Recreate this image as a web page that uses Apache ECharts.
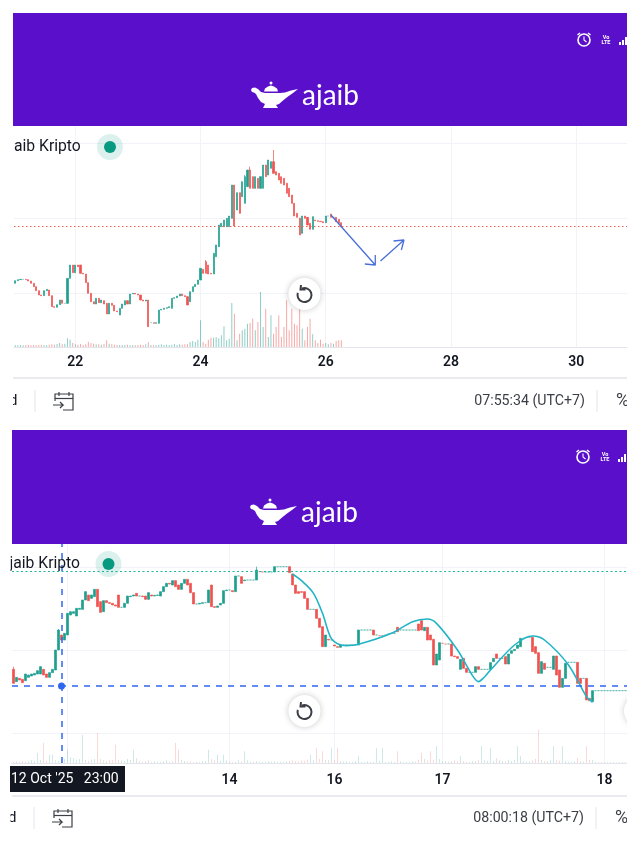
<!DOCTYPE html>
<html><head><meta charset="utf-8">
<style>html,body{margin:0;padding:0;background:#fff}#c{width:640px;height:852px}</style>
<script src="https://cdn.jsdelivr.net/npm/echarts@6/dist/echarts.min.js"></script>
</head><body><div id="c"></div>
<script>
// ---------- top panel ----------
const topTickIndex = [23, 71, 119, 167, 215];
const topTickLabels = ['22', '24', '26', '28', '30'];
const topOpen = [191,199,202,203,203,202,198,191,181,169,156,154,169,171,154,121,119,127,141,131,
131,206,246,223,246,246,221,219,193,161,136,129,146,133,139,131,99,131,125,108,
96,116,126,139,129,159,161,159,156,141,138,141,73,73,71,71,111,113,116,118,
116,146,148,153,159,154,151,136,166,181,188,201,233,256,246,221,219,271,301,361,
361,361,361,386,486,411,463,451,431,481,531,511,476,506,476,476,546,516,536,556,
526,521,511,506,491,476,456,431,401,386,341,393,389,371,353,381,379,377,376,373,393,399,389,389,383,373];
const topClose = [199,202,203,203,202,198,191,181,169,156,154,169,173,154,121,119,127,141,131,131,
206,246,223,246,241,221,219,193,161,136,129,146,133,141,129,99,131,125,108,106,
116,129,139,129,159,161,159,156,141,138,141,61,73,71,73,111,113,116,118,121,
146,148,153,159,154,151,126,166,181,188,201,236,221,221,219,219,281,306,366,371,
381,386,393,486,363,463,401,496,511,531,476,476,511,476,511,546,511,561,556,521,
516,501,491,486,461,451,431,393,389,336,393,386,366,353,391,379,377,376,373,393,393,389,389,376,371,361];
const topWicks = {51:[61,141],84:[361,486],90:[476,541],99:[521,591],88:[431,516],73:[221,261],109:[336,388]};
const topVolume = [6,5,6,5,6,7,5,6,5,6,7,6,5,7,8,7,9,12,8,10,
26,22,12,8,7,9,6,8,16,12,10,8,8,7,9,20,10,8,7,6,
6,5,6,7,5,6,5,6,7,6,8,14,6,5,6,7,8,6,7,6,
7,9,6,8,7,8,8,15,18,15,22,80,15,10,22,28,28,30,26,35,
62,20,25,132,100,20,40,50,55,70,72,85,50,75,165,60,115,30,95,40,
60,95,30,60,140,50,115,70,65,130,55,20,60,85,38,20,12,22,10,12,8,12,10,18,20,20];
const topLastPrice = 363;
const arrowDownX = [121,138,134,138,138], arrowDownY = [396,246,249,246,276];
const arrowUpX = [140,149,145,149,148], arrowUpY = [258,321,318,321,291];

// ---------- bottom panel ----------
const bottomTickIndex = [72, 107, 143, 197];
const bottomTickLabels = ['14', '16', '17', '18'];
const bottomGridIndex = [18, 72, 107, 143, 197];
const bottomOpen = [281,244,254,251,247,257,261,264,267,267,281,267,257,271,279,339,384,369,384,444,
449,441,461,461,489,504,494,499,521,484,454,487,481,479,474,504,467,467,479,499,
501,509,501,501,501,491,504,501,503,501,514,529,539,534,547,534,521,539,551,539,
511,477,477,479,481,481,534,469,467,474,479,517,519,517,514,561,559,547,549,549,
549,549,574,573,573,573,573,573,589,589,589,589,589,567,534,514,514,514,494,461,
461,461,434,409,349,371,369,354,349,347,354,354,354,354,354,354,399,399,399,399,
399,384,382,382,384,387,389,389,407,399,399,399,399,399,399,417,427,397,407,384,
371,294,309,359,357,357,357,321,319,281,314,284,272,272,272,289,281,281,281,281,
304,327,314,314,319,297,329,337,344,349,374,377,377,377,349,331,269,299,287,287,
281,321,279,227,254,302,302,302,302,254,254,254,194,184,217,217,217,217,217,217,217,217,217,217,217];
const bottomClose = [239,257,249,241,267,264,267,269,277,289,264,257,271,281,339,399,369,389,449,454,
454,464,464,489,514,487,504,521,469,452,487,481,479,474,471,467,467,479,501,501,
504,501,501,499,491,511,501,503,504,514,529,539,537,547,529,521,539,551,534,511,
477,477,479,481,481,519,469,467,471,479,517,519,519,514,561,561,539,549,549,549,
549,579,574,573,573,573,573,589,589,589,589,589,571,534,509,509,512,494,461,461,
461,434,407,349,384,369,369,351,347,354,354,354,354,354,354,399,399,399,399,399,
384,384,382,382,384,387,389,389,394,399,399,399,399,399,399,397,399,407,369,369,
294,327,361,359,357,357,321,319,314,311,284,272,272,272,289,281,281,281,281,301,
314,314,314,314,297,327,337,341,354,374,374,377,377,334,329,269,304,281,287,287,
321,264,227,254,299,302,302,302,239,239,254,189,187,217,217,217,217,217,217,217,217,217,217,217,217];
const bottomWicks = {0:[239,289],15:[339,402],81:[549,589],66:[469,534]};
const bottomVolume = [4,5,3,6,4,5,8,6,30,10,60,6,25,25,8,6,5,12,40,18,
14,10,12,85,8,6,10,12,90,12,8,6,10,8,55,10,8,6,12,10,
40,14,6,4,6,8,3,5,4,3,5,8,4,6,60,40,10,6,4,5,
3,4,3,5,6,40,12,8,25,6,25,8,4,3,4,8,5,35,8,4,
3,6,4,3,4,5,4,6,3,4,3,5,6,8,6,5,8,6,10,25,
8,45,12,35,8,10,45,8,45,6,4,5,4,3,6,20,4,3,5,3,
4,45,6,45,3,4,5,4,35,5,3,4,3,5,4,10,30,12,8,35,
10,50,12,6,5,4,6,8,5,20,6,4,3,5,6,10,50,8,6,45,
6,15,8,6,5,10,6,8,50,20,6,4,5,8,12,100,8,6,5,10,
50,8,6,50,5,4,3,5,15,6,4,50,8,10,3,2,2,2,2,2,2,2,2,2,2];
const bottomHigh = 574, crossPrice = 231, crossIndex = 16;
const curveX = [93,96,100,103,105,106,108,111,115,126,133,138,141,148,153,155,157,159,167,173,177,185,191,193];
const curveY = [567,547,509,449,392,373,358,352,356,389,424,432,419,339,262,244,258,279,354,381,369,294,199,182];

// ---------- styling ----------
const UP = '#1fa08f', DOWN = '#ef5350', GRID = '#f1f3f8', AXIS = '#e3e5ea', INK = '#131722';
const PURPLE = '#5a10ca', BLUE = '#2f66f0', FONT = 'Roboto, sans-serif';

function candles(o, c, wicks) {
  return o.map((v, i) => {
    const w = wicks[i] || [Math.min(v, c[i]), Math.max(v, c[i])];
    const d = { value: [v, c[i], w[0], w[1]] };
    if (v === c[i]) d.itemStyle = { opacity: 0.7 };   // no-trade bars read as a faint hairline
    return d;
  });
}
function volumes(vol, o, c, alpha) {
  return vol.map((v, i) => ({
    value: v,
    itemStyle: { color: c[i] >= o[i] ? `rgba(31,160,143,${alpha})` : `rgba(239,83,80,${alpha})` }
  }));
}
function categories(n, idx, labels) {
  const a = new Array(n).fill('');
  idx.forEach((k, j) => { a[k] = labels[j]; });
  return a;
}
function xAxis(gridIndex, n, idx, labels, gridIdx, margin) {
  return {
    type: 'category', gridIndex, boundaryGap: true,
    data: categories(n, idx, labels),
    axisLine: { show: true, lineStyle: { color: AXIS } },
    axisTick: { show: false },
    axisLabel: { interval: 0, margin, color: INK, fontSize: 14, fontWeight: 600, fontFamily: FONT },
    splitLine: { show: true, alignWithLabel: true, lineStyle: { color: GRID },
      interval: i => gridIdx.includes(i) }
  };
}
function yAxis(gridIndex, max, lines) {
  return {
    type: 'value', gridIndex, min: 0, max, position: 'right',
    axisLine: { show: false }, axisLabel: { show: false },
    axisTick: { show: false, customValues: lines },
    splitLine: { show: lines.length > 0, lineStyle: { color: GRID } }
  };
}
function pairs(x, y) { return x.map((v, i) => [v, y[i]]); }

// ---------- page furniture ----------
function chrome(dx, dy, time, kripto, kx) {
  const z = 100, g = [];
  const off = pts => pts.map(p => [p[0] + dx, p[1] + dy]);
  const lampBody = [[251,90],[252,88],[255,87.5],[258,89],[261,92],[265,93],[270,93],[280,93],[285,92.5],[291,90.5],[298,89],[293,93],[288,96.5],[283,100.5],[279,104],[276,105],[278,108],[263,108],[265,104],[261,102],[258,98],[256,94],[254,92.5],[252,92]];
  const lampLid = [[264,91.5],[265,88.5],[268,86.5],[271,85.5],[274,86.5],[277,88.5],[278,91.5]];
  g.push({ type: 'rect', z, shape: { x: 13 + dx, y: 13 + dy, width: 614 - dx, height: 113 + (dy ? 1 : 0) }, style: { fill: PURPLE } });
  g.push({ type: 'polygon', z: z + 1, shape: { points: off(lampBody) }, style: { fill: '#fff' } });
  g.push({ type: 'polygon', z: z + 1, shape: { points: off(lampLid) }, style: { fill: '#fff' } });
  g.push({ type: 'circle', z: z + 1, shape: { cx: 271 + dx, cy: 83 + dy, r: 1.5 }, style: { fill: '#fff' } });
  g.push({ type: 'text', z: z + 1, x: 302 + dx, y: 96 + dy, style: { text: 'ajaib', fill: '#fff', font: '400 28px Lato, sans-serif', textVerticalAlign: 'middle' } });
  // status bar
  g.push({ type: 'circle', z: z + 1, shape: { cx: 584 + dx, cy: 40 + dy, r: 6 }, style: { fill: 'none', stroke: '#fff', lineWidth: 1.6 } });
  g.push({ type: 'polyline', z: z + 1, shape: { points: off([[584, 36.5], [584, 40], [586.5, 42]]) }, style: { fill: 'none', stroke: '#fff', lineWidth: 1.1 } });
  g.push({ type: 'line', z: z + 1, shape: { x1: 577.5 + dx, y1: 35 + dy, x2: 580 + dx, y2: 33 + dy }, style: { stroke: '#fff', lineWidth: 1.4 } });
  g.push({ type: 'line', z: z + 1, shape: { x1: 590.5 + dx, y1: 35 + dy, x2: 588 + dx, y2: 33 + dy }, style: { stroke: '#fff', lineWidth: 1.4 } });
  g.push({ type: 'text', z: z + 1, x: 606 + dx, y: 40 + dy, style: { text: 'Vo\nLTE', fill: '#fff', font: '700 5.5px Roboto, sans-serif', lineHeight: 5.5, textAlign: 'center', textVerticalAlign: 'middle' } });
  [[619, 42, 2, 3], [622, 40, 2, 5], [625, 37, 2, 8]].forEach(b => g.push({ type: 'rect', z: z + 1, shape: { x: b[0] + dx, y: b[1] + dy, width: b[2], height: b[3] }, style: { fill: '#fff' } }));
  // title + status dot
  g.push({ type: 'text', z: z + 1, x: kx, y: 147 + dy, style: { text: kripto, fill: INK, font: '400 15.7px Roboto, sans-serif', textVerticalAlign: 'middle' } });
  g.push({ type: 'circle', z: z + 1, shape: { cx: 110 + dx * 1.5, cy: 147 + dy, r: 13 }, style: { fill: 'rgba(8,153,129,0.14)' } });
  g.push({ type: 'circle', z: z + 2, shape: { cx: 110 + dx * 1.5, cy: 147 + dy, r: 6 }, style: { fill: '#089981' } });
  // reset button
  g.push({ type: 'circle', z: z + 1, shape: { cx: 304.5, cy: 294 + dy, r: 16 }, style: { fill: '#fff', shadowBlur: 6, shadowColor: 'rgba(0,0,0,0.22)' } });
  g.push({ type: 'arc', z: z + 2, shape: { cx: 304.5, cy: 295 + dy, r: 7, startAngle: -Math.PI * 0.62, endAngle: Math.PI * 1.1 }, style: { fill: 'none', stroke: '#3b3e45', lineWidth: 2 } });
  g.push({ type: 'polyline', z: z + 2, shape: { points: [[301, 285 + dy], [300.5, 289.5 + dy], [305.5, 289.5 + dy]] }, style: { fill: 'none', stroke: '#3b3e45', lineWidth: 2 } });
  // toolbar
  const barY = (dy ? 796 : 378);
  g.push({ type: 'line', z, shape: { x1: 13 + dx, y1: barY, x2: 627, y2: barY }, style: { stroke: AXIS, lineWidth: 1.5 } });
  g.push({ type: 'text', z: z + 1, x: 9 + dx, y: 401 + dy, style: { text: 'd', fill: INK, font: '400 15px Roboto, sans-serif', textVerticalAlign: 'middle' } });
  g.push({ type: 'line', z, shape: { x1: 35 + dx, y1: 390 + dy, x2: 35 + dx, y2: 412 + dy }, style: { stroke: AXIS } });
  g.push({ type: 'line', z, shape: { x1: 597 + dx, y1: 390 + dy, x2: 597 + dx, y2: 412 + dy }, style: { stroke: AXIS } });
  // calendar icon
  const ic = { fill: 'none', stroke: '#3b3e45', lineWidth: 1.2 };
  g.push({ type: 'polyline', z: z + 1, shape: { points: off([[55, 401], [55, 394], [73, 394], [73, 410], [63, 410]]) }, style: ic });
  g.push({ type: 'line', z: z + 1, shape: { x1: 55 + dx, y1: 398.5 + dy, x2: 73 + dx, y2: 398.5 + dy }, style: ic });
  g.push({ type: 'line', z: z + 1, shape: { x1: 59 + dx, y1: 392 + dy, x2: 59 + dx, y2: 396 + dy }, style: ic });
  g.push({ type: 'line', z: z + 1, shape: { x1: 69 + dx, y1: 392 + dy, x2: 69 + dx, y2: 396 + dy }, style: ic });
  g.push({ type: 'polyline', z: z + 1, shape: { points: off([[53, 405], [63, 405], [60, 402]]) }, style: ic });
  g.push({ type: 'line', z: z + 1, shape: { x1: 63 + dx, y1: 405 + dy, x2: 60 + dx, y2: 408 + dy }, style: ic });
  g.push({ type: 'text', z: z + 1, x: 585 + dx, y: 401 + dy, style: { text: time, fill: '#3b3e45', font: '400 14.2px Roboto, sans-serif', textAlign: 'right', textVerticalAlign: 'middle' } });
  g.push({ type: 'text', z: z + 1, x: 616 + dx, y: 401 + dy, style: { text: '%', fill: '#3b3e45', font: '400 18px Roboto, sans-serif', textVerticalAlign: 'middle' } });
  return g;
}

const graphic = [
  ...chrome(0, 0, '07:55:34 (UTC+7)', 'aib Kripto', 14),
  ...chrome(-1, 417, '08:00:18 (UTC+7)', 'jaib Kripto', 9.5),
  // cropped next-page button and screen edges
  { type: 'circle', z: 101, shape: { cx: 640, cy: 711, r: 16 }, style: { fill: '#fff', shadowBlur: 6, shadowColor: 'rgba(0,0,0,0.2)' } },
  { type: 'rect', z: 120, shape: { x: 627, y: 0, width: 13, height: 852 }, style: { fill: '#fff' } },
  { type: 'rect', z: 120, shape: { x: 0, y: 544, width: 10.5, height: 308 }, style: { fill: '#fff' } },
  { type: 'rect', z: 120, shape: { x: 0, y: 130, width: 13, height: 290 }, style: { fill: '#fff' } },
  // crosshair date flag
  { type: 'rect', z: 125, shape: { x: 10, y: 766, width: 115, height: 26 }, style: { fill: INK } },
  { type: 'text', z: 126, x: 11, y: 779, style: { text: "12 Oct '25   23:00", fill: '#fff', font: '400 14px Roboto, sans-serif', textVerticalAlign: 'middle' } }
];

const candleStyle = { color: UP, color0: DOWN, borderColor: UP, borderColor0: DOWN, borderWidth: 0.7 };

const chart = echarts.init(document.getElementById('c'), null, { renderer: 'canvas' });
chart.setOption({
  animation: false,
  backgroundColor: '#fff',
  grid: [
    { left: 14, top: 126, width: 613, height: 221 },
    { left: 12, top: 544, width: 615, height: 219 }
  ],
  xAxis: [
    xAxis(0, 235, topTickIndex, topTickLabels, topTickIndex, 8),
    xAxis(1, 205, bottomTickIndex, bottomTickLabels, bottomGridIndex, 10)
  ],
  yAxis: [
    yAxis(0, 663, [162, 387, 612]),
    yAxis(1, 657, [90, 339, 588]),
    yAxis(0, 663, []),
    yAxis(1, 657, [])
  ],
  series: [
    { type: 'bar', xAxisIndex: 0, yAxisIndex: 2, barWidth: 1, data: volumes(topVolume, topOpen, topClose, 0.5), silent: true },
    { type: 'candlestick', xAxisIndex: 0, yAxisIndex: 0, barWidth: 1.6, itemStyle: candleStyle,
      data: candles(topOpen, topClose, topWicks),
      markLine: { silent: true, symbol: 'none', label: { show: false },
        lineStyle: { color: '#e8604f', type: [1.5, 2.5], width: 1 }, data: [{ yAxis: topLastPrice }] } },
    { type: 'line', xAxisIndex: 0, yAxisIndex: 0, symbol: 'none', lineStyle: { color: '#4a6fd8', width: 1.3 }, data: pairs(arrowDownX, arrowDownY) },
    { type: 'line', xAxisIndex: 0, yAxisIndex: 0, symbol: 'none', lineStyle: { color: '#4a6fd8', width: 1.3 }, data: pairs(arrowUpX, arrowUpY) },

    { type: 'bar', xAxisIndex: 1, yAxisIndex: 3, barWidth: 1, data: volumes(bottomVolume, bottomOpen, bottomClose, 0.22), silent: true },
    { type: 'candlestick', xAxisIndex: 1, yAxisIndex: 1, barWidth: 1.6, itemStyle: candleStyle,
      data: candles(bottomOpen, bottomClose, bottomWicks),
      markLine: { silent: true, symbol: 'none', label: { show: false },
        data: [
          { yAxis: bottomHigh, lineStyle: { color: '#18b89f', type: [2, 2.5], width: 1.1 } },
          { yAxis: crossPrice, lineStyle: { color: BLUE, type: [6, 6], width: 1.5 } },
          { xAxis: crossIndex, lineStyle: { color: BLUE, type: [6, 6], width: 1.5 } }
        ] },
      markPoint: { silent: true, symbol: 'circle', symbolSize: 7, itemStyle: { color: BLUE }, label: { show: false },
        data: [{ coord: [crossIndex, crossPrice] }] } },
    { type: 'line', xAxisIndex: 1, yAxisIndex: 1, symbol: 'none', smooth: 0.3, lineStyle: { color: '#22b4c6', width: 1.6 }, data: pairs(curveX, curveY) }
  ],
  graphic
});
</script>
</body></html>
